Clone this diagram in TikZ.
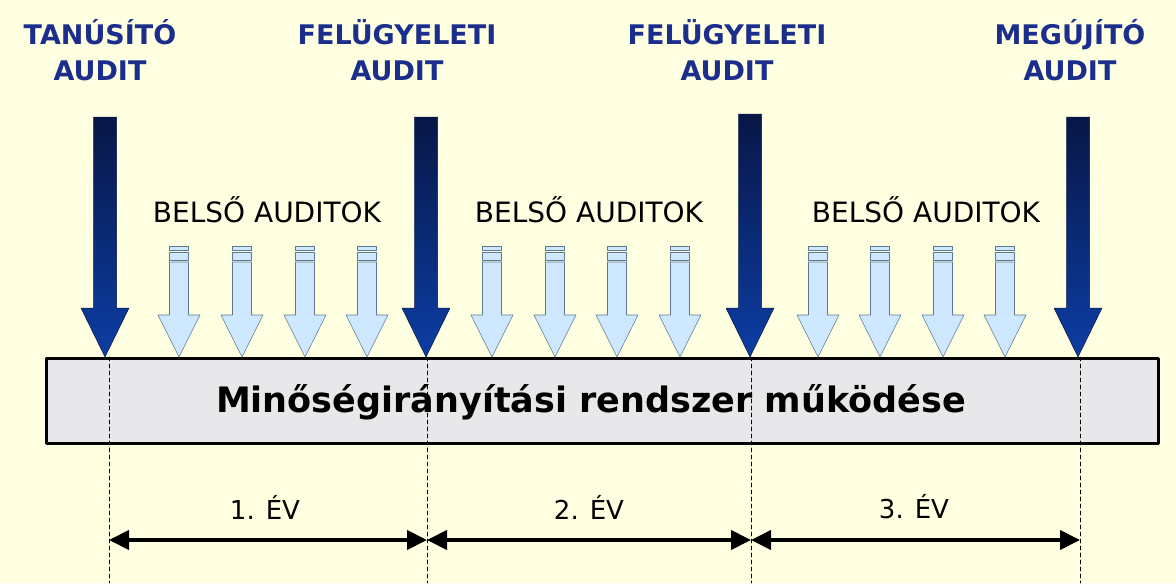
\documentclass[tikz,border=0pt]{standalone}
\usepackage{fontspec}
\setmainfont{DejaVu Sans}
\usetikzlibrary{arrows.meta}

\definecolor{cream}{RGB}{255,255,225}
\definecolor{navy}{RGB}{8,22,70}
\definecolor{auditblue}{RGB}{12,62,165}
\definecolor{titleblue}{RGB}{28,46,140}
\definecolor{lightblue}{RGB}{205,232,255}
\definecolor{edgeblue}{RGB}{95,120,145}
\definecolor{bargray}{RGB}{232,232,234}

\begin{document}
\begin{tikzpicture}[line cap=round,line join=round,x=1pt,y=-1pt,
    >={Triangle[length=20pt,width=19pt]},
    auditlabel/.style={font=\fontsize{27}{36}\selectfont\bfseries,text=titleblue,align=center},
    innerlabel/.style={font=\fontsize{28}{30}\selectfont},
    yearlabel/.style={font=\fontsize{26}{30}\selectfont},
    smallarrow/.style={draw=edgeblue,fill=lightblue,line width=0.6pt}]
      \fill[cream] (0,0) rectangle (1176,583);

      \node[auditlabel] (cert) at (100,50) {TANÚSÍTÓ\\AUDIT};
      \node[auditlabel] (survA) at (397,50) {FELÜGYELETI\\AUDIT};
      \node[auditlabel] (survB) at (727,50) {FELÜGYELETI\\AUDIT};
      \node[auditlabel] (renew) at (1070,50) {MEGÚJÍTÓ\\AUDIT};

      \node[innerlabel] (innerA) at (267,210) {BELSŐ AUDITOK};
      \node[innerlabel] (innerB) at (589,210) {BELSŐ AUDITOK};
      \node[innerlabel] (innerC) at (926,210) {BELSŐ AUDITOK};

      \node[draw,line width=3pt,fill=bargray,minimum width=1112pt,
            minimum height=85pt,inner sep=0pt] (bar) at (602.5,401) {};
      \node[font=\fontsize{35}{40}\selectfont\bfseries] (system) at (591,402)
            {Minőségirányítási rendszer működése};

      \foreach \n/\x in {1/109,2/427,3/751,4/1080}{
        \coordinate (top\n) at (\x,357);
        \coordinate (mark\n) at (\x,540);
        \coordinate (foot\n) at (\x,583);
        \draw[dashed,line width=0.6pt,dash pattern=on 4pt off 3pt] (top\n) -- (foot\n);
      }

      \foreach \x/\y in {105/117,426/117,750/114,1078/117}{
        \shade[top color=navy,bottom color=auditblue,draw=navy,line width=0.5pt]
          (\x-11.5,\y) -- (\x+11.5,\y) -- (\x+11.5,308) -- (\x+24,308) --
          (\x,357) -- (\x-24,308) -- (\x-11.5,308) -- cycle;
      }

      \foreach \x in {179,242,305,367,492,555,617,680,818,880,943,1005}{
        \draw[smallarrow] (\x-9.5,262) -- (\x+9.5,262) -- (\x+9.5,315) --
          (\x+21,315) -- (\x,357) -- (\x-21,315) -- (\x-9.5,315) -- cycle;
        \draw[smallarrow] (\x-9.5,246) rectangle (\x+9.5,250);
        \draw[smallarrow] (\x-9.5,252) rectangle (\x+9.5,260);
      }

      \node[yearlabel] (yearA) at (265,507) {1. ÉV};
      \node[yearlabel] (yearB) at (589,507) {2. ÉV};
      \node[yearlabel] (yearC) at (914,507) {3. ÉV};

      \draw[<->,line width=4pt] (mark1) -- (mark2);
      \draw[<->,line width=4pt] (mark2) -- (mark3);
      \draw[<->,line width=4pt] (mark3) -- (mark4);
\end{tikzpicture}
\end{document}
